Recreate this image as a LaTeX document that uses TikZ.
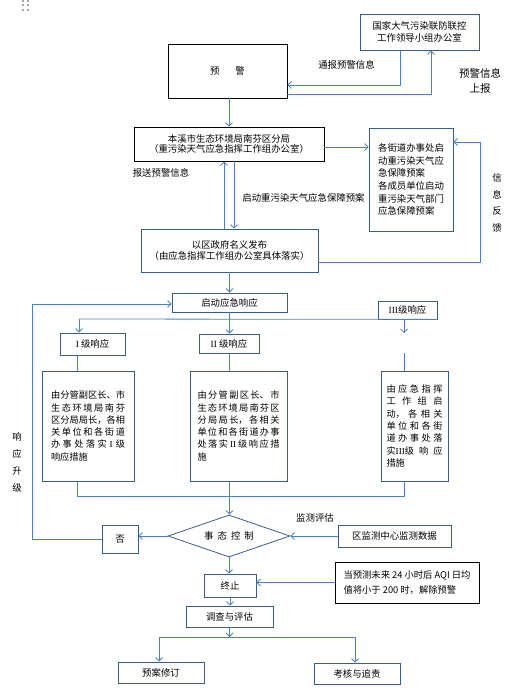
\documentclass[tikz,border=0pt]{standalone}
\usepackage{fontspec}
\setmainfont{Noto Sans CJK SC}
\newfontfamily\romanfont{Liberation Serif}
\usetikzlibrary{shapes.geometric,arrows.meta}
\definecolor{boxblue}{RGB}{56,93,138}
\definecolor{lineblue}{RGB}{79,129,189}
\newcommand{\jfy}{\XeTeXlinebreaklocale "zh"\XeTeXlinebreakskip=0pt plus 1fil\relax\parfillskip=0pt plus 1fill\relax}

\begin{document}
\begin{tikzpicture}[x=1pt, y=-1pt,
    every node/.style={font=\fontsize{9.4}{12.4}\selectfont, inner sep=0pt, align=center},
    bluebox/.style={draw=boxblue, line width=0.8pt},
    blackbox/.style={draw=black, line width=0.8pt},
    descbox/.style={bluebox, align=justify, minimum height=110pt, font=\fontsize{9.2}{12.3}\selectfont, execute at begin node=\jfy},
    ln/.style={draw=lineblue, line width=0.8pt},
    arr/.style={ln, -{Straight Barb[length=3.5pt,width=7pt]}}
]
\useasboundingbox (0,0) rectangle (521,696);
\foreach \dx in {23,28}
    \foreach \dy in {0.5,5,10}
        \fill[gray!70] (\dx-1,\dy-1) rectangle ++(2,2);

\node[bluebox, minimum width=119pt, minimum height=36pt] (nat) at (419.5,32) {国家大气污染联防联控\\工作领导小组办公室};
\node[blackbox, minimum width=119pt, minimum height=54pt] (warn) at (227.5,71) {预\hspace{1.7em}警};
\node[blackbox, minimum width=190pt, minimum height=34pt, font=\fontsize{9.4}{10.5}\selectfont] (bureau) at (229,144) {本溪市生态环境局南芬区分局\\（重污染天气应急指挥工作组办公室）};
\node[bluebox, minimum width=84pt, minimum height=103pt, align=left, font=\fontsize{9.4}{12.7}\selectfont] (streets) at (411,179.5) {各街道办事处启\\动重污染天气应\\急保障预案\\各成员单位启动\\重污染天气部门\\应急保障预案};
\node[bluebox, minimum width=177pt, minimum height=43pt, font=\fontsize{9.4}{11.7}\selectfont] (publish) at (229.5,250.5) {以区政府名义发布\\（由应急指挥工作组办公室具体落实）};
\node[bluebox, minimum width=115pt, minimum height=19pt] (start) at (229.5,302.5) {启动应急响应};
\node[bluebox, minimum width=59pt, minimum height=18pt] (lvlIII) at (407.5,310) {{\romanfont III}级响应};
\node[bluebox, minimum width=65pt, minimum height=22pt] (lvlI) at (92.5,344) {{\romanfont I} 级响应};
\node[bluebox, minimum width=60pt, minimum height=19pt] (lvlII) at (229,343.5) {{\romanfont II} 级响应};
\node[descbox, text width=74pt, inner xsep=9pt] (descI) at (88,426) {由分管副区长、市\linebreak 生态环境局南芬\linebreak 区分局局长，各相\linebreak 关单位和各街道\linebreak 办事处落实\hspace{3pt}{\romanfont I}\hspace{3pt}级\linebreak 响应措施};
\node[descbox, text width=82pt, inner xsep=7.5pt] (descII) at (238.5,426) {由分管副区长、市\linebreak 生态环境局南芬区\linebreak 分局局长，各相关\linebreak 单位和各街道办事\linebreak 处落实\hspace{2pt}{\romanfont II}\hspace{2pt}级响应措\linebreak 施};
\node[descbox, text width=56pt, inner xsep=5.5pt] (descIII) at (414.5,426) {由应急指挥\linebreak 工作组启\linebreak 动，各相关\linebreak 单位和各街\linebreak 道办事处落\linebreak 实{\romanfont III}级响应\linebreak 措施};
\node[draw=boxblue, line width=0.8pt, diamond, aspect=2.9, minimum width=122pt, minimum height=42pt] (ctrl) at (229,536) {事\hspace{4pt}态\hspace{4pt}控\hspace{4pt}制};
\node[bluebox, minimum width=36pt, minimum height=28pt] (no) at (120,539) {否};
\node[bluebox, minimum width=113pt, minimum height=22pt] (monitor) at (394.5,536) {区监测中心监测数据};
\node[bluebox, minimum width=52pt, minimum height=23pt] (stop) at (230,585.5) {终止};
\node[blackbox, minimum width=144pt, minimum height=41pt, align=left, font=\fontsize{9.3}{15}\selectfont] (aqi) at (407,582.5) {当预测未来 24 小时后 AQI 日均\\值将小于 200 时，解除预警};
\node[bluebox, minimum width=87pt, minimum height=21pt] (survey) at (229.5,616.5) {调查与评估};
\node[bluebox, minimum width=86pt, minimum height=21pt] (revise) at (161,672.5) {预案修订};
\node[bluebox, minimum width=86pt, minimum height=21pt] (assess) at (357,673.5) {考核与追责};

\node (notify) at (346.5,65) {通报预警信息};
\node[font=\fontsize{10.5}{15}\selectfont] (report) at (480,80.5) {预警信息\\上报};
\node (submit) at (161,173) {报送预警信息};
\node (launch) at (303.5,198) {启动重污染天气应急保障预案};
\node[font=\fontsize{9.4}{16.7}\selectfont] (feedback) at (497,203) {信\\息\\反\\馈};
\node[font=\fontsize{9.4}{17}\selectfont] (upgrade) at (17,462.5) {响\\应\\升\\级};
\node (evaluate) at (315,518) {监测评估};

\draw[arr] ([xshift=-19.5pt]nat.south) |- ([yshift=-14pt]warn.east);
\draw[arr] ([yshift=-23pt]warn.east) -| ([xshift=11.5pt]nat.south);
\draw[arr] (bureau.north |- warn.south) -- (bureau.north);
\draw[arr] ([yshift=-3pt]bureau.east) -- ([yshift=-3pt]bureau.east -| streets.west);
\draw[arr] ([xshift=-5pt]bureau.south |- publish.north) -- ([xshift=-5pt]bureau.south);
\draw[arr] ([xshift=5pt]bureau.south) -- ([xshift=5pt]bureau.south |- publish.north);
\coordinate (fbturn) at (480,142);
\draw[arr] ([yshift=-11.5pt]publish.east) -| (fbturn) -- (fbturn -| streets.east);
\draw[arr] (publish.south) -- (start.north);
\coordinate (loop) at (32,304);
\draw[arr] (no.west) -| (loop) -- (loop -| start.west);
\coordinate (split) at (229.5,319);
\draw[ln] (start.south) -- (split);
\draw[ln] ([xshift=-13.5pt]lvlI.north |- split) -- (lvlIII.south east);
\draw[arr] ([xshift=-13.5pt]lvlI.north |- split) -- ([xshift=-13.5pt]lvlI.north);
\draw[arr] (split) -- (split |- lvlII.north);
\coordinate (IIIarrow) at (404,333);
\draw[arr] (lvlIII.south -| IIIarrow) -- (IIIarrow);
\coordinate (IIIline) at (404,353);
\draw[ln] ([xshift=-15pt]lvlI.south) -- ([xshift=-15pt]lvlI.south |- descI.north);
\draw[ln] (lvlII.south) -- (lvlII.south |- descII.north);
\draw[ln] (IIIline) -- (IIIline |- descIII.north);
\coordinate (merge) at (229.5,496);
\draw[ln] ([xshift=-11pt]descI.south) |- (merge -| IIIline) -- (IIIline |- descIII.south);
\draw[ln] (merge |- descII.south) -- (merge);
\draw[arr] (merge) -- (merge |- ctrl.north);
\draw[arr] (ctrl.west) -- (ctrl.west -| no.east);
\draw[arr] (monitor.west) -- (ctrl.east);
\draw[arr] (ctrl.south) -- (ctrl.south |- stop.north);
\draw[arr] (aqi.west) -- (aqi.west -| stop.east);
\draw[arr] (stop.south) -- (stop.south |- survey.north);
\coordinate (fork) at (229.5,637);
\draw[arr] (survey.south) -- (fork);
\draw[ln] ([xshift=-2pt]revise.north |- fork) -- ([xshift=-2pt]assess.north |- fork);
\draw[arr] ([xshift=-2pt]revise.north |- fork) -- ([xshift=-2pt]revise.north);
\draw[arr] ([xshift=-2pt]assess.north |- fork) -- ([xshift=-2pt]assess.north);
\end{tikzpicture}
\end{document}
